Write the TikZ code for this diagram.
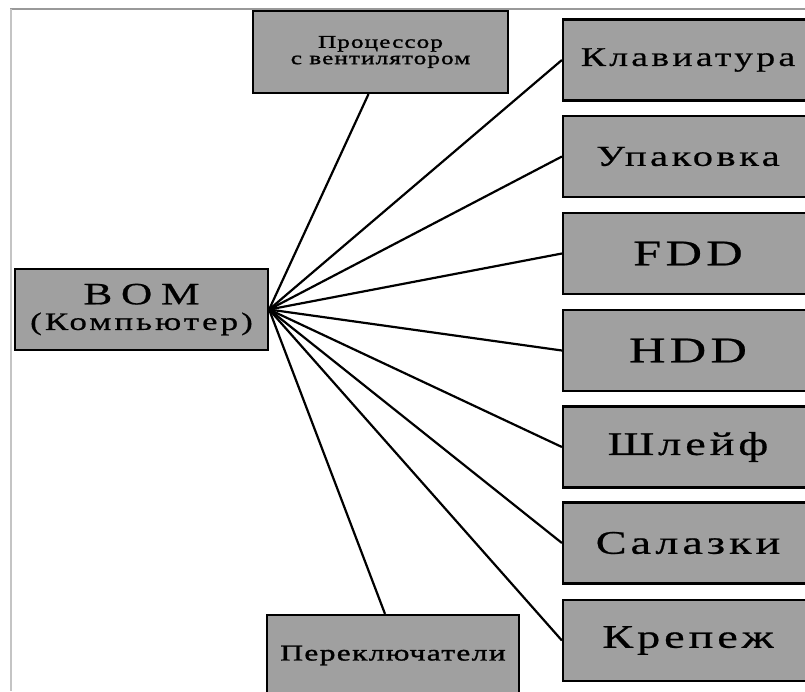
\documentclass[tikz,border=0pt]{standalone}
\usepackage{fontspec}
\setmainfont{Liberation Serif}
\newfontfamily\boxfont[FakeStretch=1.4,LetterSpace=12,FakeBold=0.6]{Liberation Serif}
\newfontfamily\smallboxfont[FakeStretch=1.4,LetterSpace=6,FakeBold=1.4]{Liberation Serif}
\newcommand\lblsize[1]{\fontsize{#1}{#1}\selectfont}
\definecolor{boxgray}{HTML}{A0A0A0}
\definecolor{frametop}{HTML}{999999}
\definecolor{frameleft}{HTML}{C4C4C4}
\tikzset{
  part/.style={draw=black, line width=2.2pt, fill=boxgray, rectangle,
    minimum height=81pt, inner sep=0pt, align=center, font=\boxfont},
  rightpart/.style={part, minimum width=250pt},
  link/.style={draw=black, line width=2.2pt},
}
\begin{document}
\begin{tikzpicture}[x=1pt,y=-1pt]
  \useasboundingbox (0,0) rectangle (805,691);
  \clip (0,0) rectangle (805,691);
  \fill[white] (0,0) rectangle (805,691);
  % page frame
  \draw[frametop, line width=1.5pt] (10,9) -- (805,9);
  \draw[frameleft, line width=2pt] (11,9) -- (11,691);

  % root
  \node[part, minimum width=253pt] (bom) at (141.5,309.5)
    {{\lblsize{31}\addfontfeature{LetterSpace=28}BOM}\\[7pt]{\lblsize{25}(Компьютер)}};

  % upper and lower parts
  \node[part, minimum width=255pt, minimum height=82pt, font=\smallboxfont] (cpu) at (380.5,52)
    {\lblsize{18}Процессор\\[3pt]\lblsize{18}с вентилятором};
  \node[part, minimum width=252pt, font=\smallboxfont] (sw) at (393,655.5)
    {\lblsize{22.5}Переключатели};

  % right column
  \node[rightpart] (kbd) at (688,60)    {\lblsize{27}Клавиатура};
  \node[rightpart] (pkg) at (688,156.5) {\lblsize{29}Упаковка};
  \node[rightpart] (fdd) at (688,253.5) {\lblsize{36}FDD};
  \node[rightpart] (hdd) at (688,350.5) {\lblsize{36}HDD};
  \node[rightpart] (cab) at (688,447)   {\lblsize{33}Шлейф};
  \node[rightpart] (sld) at (688,543)   {\lblsize{33}Салазки};
  \node[rightpart] (fix) at (688,640.5) {\lblsize{33}Крепеж};

  % connectors
  \coordinate (hub) at (bom.east);
  \draw[link] (hub) -- ([xshift=-12pt]cpu.south);
  \draw[link] (hub) -- ([xshift=-8pt]sw.north);
  \foreach \n in {kbd,pkg,fdd,hdd,cab,sld,fix}
    \draw[link] (hub) -- (\n.west);
\end{tikzpicture}
\end{document}
